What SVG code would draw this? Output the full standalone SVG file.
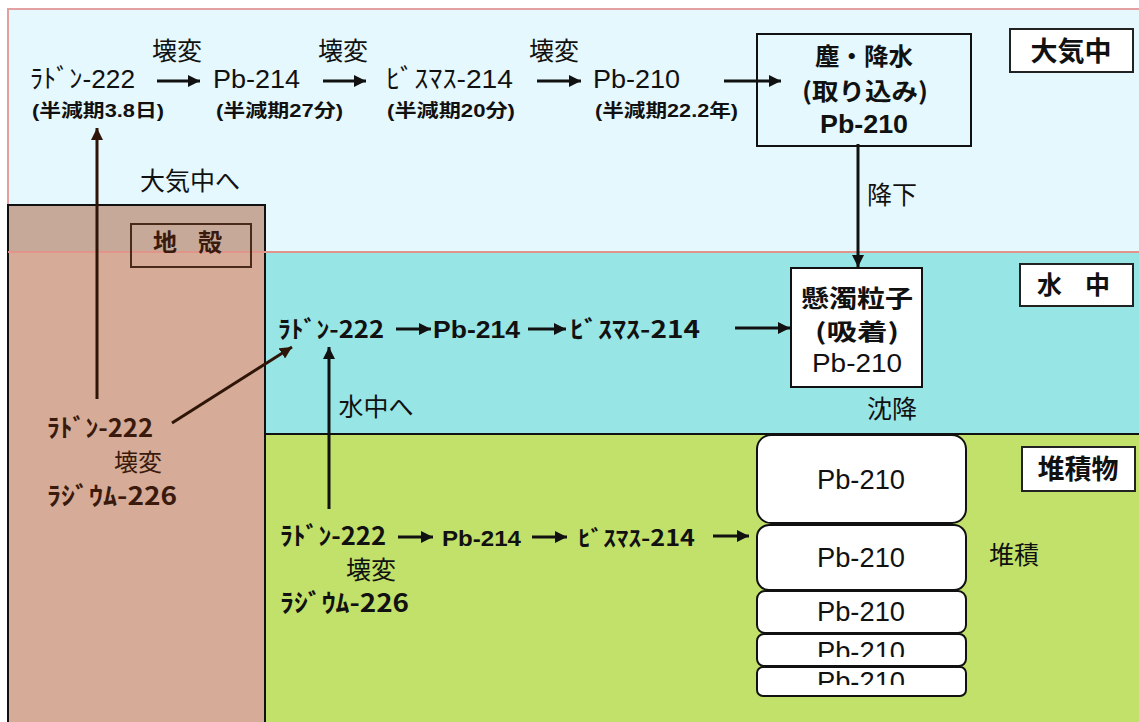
<svg xmlns="http://www.w3.org/2000/svg" width="1139" height="722" viewBox="0 0 1139 722">
<defs>
<style>
.t{font-family:"Liberation Sans","Noto Sans CJK JP",sans-serif;fill:#111;}
.j{font-family:"Noto Sans CJK JP",sans-serif;fill:#111;}
.b{font-weight:bold;}
.br{fill:#3a1a0c;}
.ln{stroke:#111;stroke-width:3;fill:none;}
.lb{stroke:#2e1508;stroke-width:3;fill:none;}
.box{fill:#fff;stroke:#111;stroke-width:2;}
.lab{fill:#fff;stroke:#222;stroke-width:2;}
</style>
<marker id="ah" viewBox="0 0 10 10" refX="10" refY="5" markerWidth="12" markerHeight="12" markerUnits="userSpaceOnUse" orient="auto"><path d="M0,0 L10,5 L0,10 z" fill="#111"/></marker>
<marker id="ahb" viewBox="0 0 10 10" refX="10" refY="5" markerWidth="12" markerHeight="12" markerUnits="userSpaceOnUse" orient="auto"><path d="M0,0 L10,5 L0,10 z" fill="#2e1508"/></marker>
<clipPath id="c4"><rect x="757" y="634" width="209" height="23"/></clipPath>
<clipPath id="c5"><rect x="757" y="667" width="209" height="18"/></clipPath>
</defs>

<g id="background">
<rect x="8" y="9" width="1140" height="243" fill="#e5f8fd" stroke="#e3a0a0" stroke-width="2"/>
<rect x="265" y="252" width="880" height="182" fill="#98e5e6"/>
<rect x="265" y="434" width="880" height="300" fill="#c2e16a"/>
<line x1="265" y1="434" x2="1139" y2="434" stroke="#111" stroke-width="2"/>
</g>

<g id="crust">
<rect x="8" y="205" width="257" height="530" fill="#d6ab97" stroke="#111" stroke-width="2"/>
<rect x="9" y="206" width="255" height="46" fill="#c6a999"/>
<line x1="8" y1="252" x2="1139" y2="252" stroke="#e0948a" stroke-width="2"/>
</g>

<g id="label-crust">
<rect x="131" y="224" width="120" height="43" fill="none" stroke="#4a2a1a" stroke-width="2"/>
<text class="j b br" x="153" y="251" font-size="24" textLength="69" lengthAdjust="spacing">地 殻</text>
</g>

<g id="label-atmosphere">
<rect class="lab" x="1010" y="29" width="123" height="43"/>
<text class="j b" x="1071" y="61" font-size="27" text-anchor="middle">大気中</text>
</g>
<g id="label-water">
<rect class="lab" x="1020" y="264" width="113" height="42"/>
<text class="j b" x="1037" y="294" font-size="25" textLength="73" lengthAdjust="spacing">水 中</text>
</g>
<g id="label-sediment">
<rect class="lab" x="1022" y="447" width="113" height="44"/>
<text class="j b" x="1078" y="479" font-size="27" text-anchor="middle">堆積物</text>
</g>

<g id="atm-chain">
<text class="t" x="30" y="88" font-size="26" textLength="105" lengthAdjust="spacingAndGlyphs">ﾗﾄﾞﾝ-222</text>
<text class="t b" x="32" y="117" font-size="18" textLength="132" lengthAdjust="spacingAndGlyphs">(半減期3.8日)</text>
<text class="t" x="213" y="88" font-size="26" textLength="87" lengthAdjust="spacingAndGlyphs">Pb-214</text>
<text class="t b" x="216" y="117" font-size="18" textLength="127" lengthAdjust="spacingAndGlyphs">(半減期27分)</text>
<text class="t" x="386" y="88" font-size="26" textLength="127" lengthAdjust="spacingAndGlyphs">ﾋﾞｽﾏｽ-214</text>
<text class="t b" x="387" y="117" font-size="18" textLength="128" lengthAdjust="spacingAndGlyphs">(半減期20分)</text>
<text class="t" x="593" y="88" font-size="26" textLength="87" lengthAdjust="spacingAndGlyphs">Pb-210</text>
<text class="t b" x="595" y="117" font-size="18" textLength="143" lengthAdjust="spacingAndGlyphs">(半減期22.2年)</text>
<text class="j" x="177" y="60" font-size="25" text-anchor="middle">壊変</text>
<text class="j" x="343" y="60" font-size="25" text-anchor="middle">壊変</text>
<text class="j" x="554" y="60" font-size="25" text-anchor="middle">壊変</text>
<text class="j" x="190" y="190" font-size="25" text-anchor="middle">大気中へ</text>
</g>

<g id="dust-box">
<rect x="757" y="34" width="214" height="112" fill="#e5f8fd" stroke="#111" stroke-width="2"/>
<text class="j b" x="815" y="65" font-size="24" textLength="98" lengthAdjust="spacingAndGlyphs">塵・降水</text>
<text class="j b" x="802" y="100" font-size="24" textLength="126" lengthAdjust="spacingAndGlyphs">(取り込み)</text>
<text class="t b" x="820" y="133" font-size="26" textLength="88" lengthAdjust="spacingAndGlyphs">Pb-210</text>
<text class="j" x="892" y="204" font-size="25" text-anchor="middle">降下</text>
</g>

<g id="crust-chain">
<text class="j b br" x="47" y="437" font-size="25" textLength="106" lengthAdjust="spacingAndGlyphs">ﾗﾄﾞﾝ-222</text>
<text class="j br" x="138" y="471" font-size="24" text-anchor="middle">壊変</text>
<text class="j b br" x="47" y="505" font-size="25" textLength="130" lengthAdjust="spacingAndGlyphs">ﾗｼﾞｳﾑ-226</text>
</g>

<g id="water-chain">
<text class="j b" x="278" y="338" font-size="24" textLength="106" lengthAdjust="spacingAndGlyphs">ﾗﾄﾞﾝ-222</text>
<text class="t b" x="433" y="338" font-size="24" textLength="87" lengthAdjust="spacingAndGlyphs">Pb-214</text>
<text class="j b" x="570" y="338" font-size="24" textLength="130" lengthAdjust="spacingAndGlyphs">ﾋﾞｽﾏｽ-214</text>
<text class="j" x="376" y="416" font-size="25" text-anchor="middle">水中へ</text>
<text class="j" x="892" y="418" font-size="25" text-anchor="middle">沈降</text>
</g>

<g id="particle-box">
<rect class="box" x="791" y="268" width="131" height="119"/>
<text class="j b" x="801" y="307" font-size="24" textLength="112" lengthAdjust="spacingAndGlyphs">懸濁粒子</text>
<text class="j b" x="815" y="340" font-size="23" textLength="84" lengthAdjust="spacingAndGlyphs">(吸着)</text>
<text class="t" x="812" y="372" font-size="26" textLength="90" lengthAdjust="spacingAndGlyphs">Pb-210</text>
</g>

<g id="sediment-chain">
<text class="j b" x="280" y="545" font-size="25" textLength="106" lengthAdjust="spacingAndGlyphs">ﾗﾄﾞﾝ-222</text>
<text class="j" x="371" y="579" font-size="25" text-anchor="middle">壊変</text>
<text class="j b" x="280" y="612" font-size="25" textLength="129" lengthAdjust="spacingAndGlyphs">ﾗｼﾞｳﾑ-226</text>
<text class="t b" x="442" y="546" font-size="22" textLength="79" lengthAdjust="spacingAndGlyphs">Pb-214</text>
<text class="j b" x="578" y="546" font-size="22" textLength="117" lengthAdjust="spacingAndGlyphs">ﾋﾞｽﾏｽ-214</text>
<text class="j" x="1014" y="564" font-size="25" text-anchor="middle">堆積</text>
</g>

<g id="sediment-layers">
<rect class="box" x="757" y="435" width="209" height="88" rx="14"/>
<text class="t" x="817" y="489" font-size="27" textLength="88" lengthAdjust="spacingAndGlyphs">Pb-210</text>
<rect class="box" x="757" y="525" width="209" height="65" rx="12"/>
<text class="t" x="817" y="567" font-size="27" textLength="88" lengthAdjust="spacingAndGlyphs">Pb-210</text>
<rect class="box" x="757" y="591" width="209" height="42" rx="8"/>
<text class="t" x="817" y="621" font-size="27" textLength="88" lengthAdjust="spacingAndGlyphs">Pb-210</text>
<rect class="box" x="757" y="634" width="209" height="32" rx="7"/>
<text class="t" x="817" y="661" font-size="27" textLength="88" lengthAdjust="spacingAndGlyphs" clip-path="url(#c4)">Pb-210</text>
<rect class="box" x="757" y="667" width="209" height="29" rx="6"/>
<text class="t" x="817" y="691" font-size="27" textLength="88" lengthAdjust="spacingAndGlyphs" clip-path="url(#c5)">Pb-210</text>
</g>

<g id="connectors">
<line class="ln" x1="157" y1="81" x2="200" y2="81" marker-end="url(#ah)"/>
<line class="ln" x1="323" y1="81" x2="366" y2="81" marker-end="url(#ah)"/>
<line class="ln" x1="537" y1="81" x2="581" y2="81" marker-end="url(#ah)"/>
<line class="ln" x1="724" y1="81" x2="781" y2="81" marker-end="url(#ah)"/>
<line class="ln" x1="858" y1="144" x2="858" y2="267" marker-end="url(#ah)"/>
<line class="lb" x1="97" y1="399" x2="97" y2="128" marker-end="url(#ahb)"/>
<line class="lb" x1="172" y1="423" x2="292" y2="347" marker-end="url(#ahb)"/>
<line class="ln" x1="329" y1="509" x2="329" y2="347" marker-end="url(#ah)"/>
<line class="ln" x1="396" y1="329" x2="431" y2="329" marker-end="url(#ah)"/>
<line class="ln" x1="528" y1="329" x2="566" y2="329" marker-end="url(#ah)"/>
<line class="ln" x1="735" y1="328" x2="790" y2="328" marker-end="url(#ah)"/>
<line class="ln" x1="398" y1="537" x2="433" y2="537" marker-end="url(#ah)"/>
<line class="ln" x1="532" y1="537" x2="567" y2="537" marker-end="url(#ah)"/>
<line class="ln" x1="713" y1="536" x2="749" y2="536" marker-end="url(#ah)"/>
</g>
</svg>
